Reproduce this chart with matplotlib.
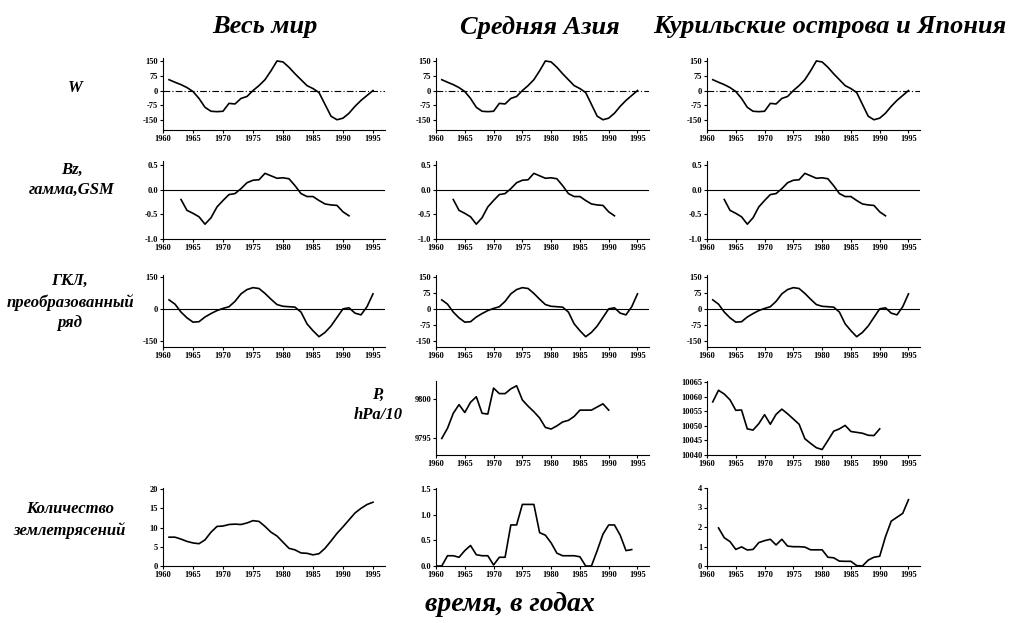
import numpy as np
import matplotlib.pyplot as plt

# --- data ---
years_w = np.arange(1961, 1996)
w_index = [55, 42, 30, 15, -5, -40, -85, -105, -107, -105, -65, -68, -40, -30, 0,
           25, 55, 100, 150, 145, 118, 85, 55, 25, 10, -10, -70, -130, -148, -140,
           -115, -80, -50, -25, 0]

years_bz = np.arange(1963, 1992)
bz_gsm = [-0.2, -0.42, -0.48, -0.55, -0.70, -0.57, -0.35, -0.22, -0.1, -0.08, 0.02,
          0.14, 0.19, 0.2, 0.33, 0.28, 0.23, 0.24, 0.22, 0.08, -0.08, -0.14, -0.14,
          -0.22, -0.29, -0.31, -0.32, -0.45, -0.53]

years_gkl = np.arange(1961, 1996)
gkl = [42, 22, -15, -42, -62, -60, -38, -22, -8, 2, 10, 35, 70, 90, 99, 95, 72, 45,
       20, 12, 10, 8, -15, -70, -102, -130, -110, -80, -40, 0, 5, -20, -28, 10, 70]

years_p = np.arange(1961, 1991)
p_asia = [9795.0, 9796.3, 9798.2, 9799.3, 9798.3, 9799.6, 9800.3, 9798.2, 9798.1,
          9801.4, 9800.7, 9800.7, 9801.3, 9801.7, 9799.9, 9799.1, 9798.4, 9797.6,
          9796.4, 9796.2, 9796.6, 9797.1, 9797.3, 9797.8, 9798.6, 9798.6, 9798.6,
          9799.0, 9799.4, 9798.6]
p_japan = [10058.3, 10062.3, 10061.0, 10059.0, 10055.4, 10055.5, 10049.0, 10048.6,
           10050.8, 10053.9, 10050.6, 10054.0, 10055.8, 10054.2, 10052.4, 10050.6,
           10045.6, 10044.0, 10042.5, 10041.9, 10045.0, 10048.2, 10049.0, 10050.2,
           10048.1, 10047.8, 10047.5, 10046.8, 10046.7, 10049.0]

years_q_world = np.arange(1961, 1996)
quakes_world = [7.5, 7.5, 7.0, 6.4, 6.0, 5.8, 6.8, 8.8, 10.3, 10.4, 10.8, 10.9, 10.8,
                11.2, 11.8, 11.6, 10.3, 8.8, 7.8, 6.2, 4.6, 4.2, 3.4, 3.3, 2.9, 3.2,
                4.6, 6.5, 8.5, 10.2, 12.0, 13.8, 15.0, 16.0, 16.6]
years_q_asia = np.arange(1960, 1995)
quakes_asia = [0, 0, 0.2, 0.2, 0.17, 0.3, 0.4, 0.22, 0.2, 0.2, 0.02, 0.17, 0.17, 0.8,
               0.8, 1.2, 1.2, 1.2, 0.65, 0.6, 0.45, 0.25, 0.2, 0.2, 0.2, 0.18, 0.0,
               0.0, 0.3, 0.62, 0.8, 0.8, 0.6, 0.3, 0.32]
years_q_japan = np.arange(1962, 1996)
quakes_japan = [1.95, 1.45, 1.25, 0.85, 0.98, 0.82, 0.85, 1.2, 1.3, 1.37, 1.08, 1.37,
                1.02, 0.99, 0.99, 0.97, 0.83, 0.83, 0.83, 0.45, 0.42, 0.25, 0.24, 0.24,
                0.02, 0.0, 0.3, 0.45, 0.5, 1.5, 2.3, 2.5, 2.7, 3.4]

col_titles = ["Весь мир", "Средняя Азия", "Курильские острова и Япония"]
row_labels = ["W", "Bz,\nгамма,GSM", "ГКЛ,\nпреобразованный\nряд",
              "P,\nhPa/10", "Количество\nземлетрясений"]
year_ticks = [1960, 1965, 1970, 1975, 1980, 1985, 1990, 1995]

W, H = 1010, 623
fig = plt.figure(figsize=(W / 100, H / 100), dpi=100)

col_left = [163, 436, 707]
col_width = [222, 213, 213]
row_box = [(58, 130), (161, 239), (275, 347), (381, 455), (488, 566)]

serif = "Liberation Serif"


def make_ax(r, c):
    top, bot = row_box[r]
    ax = fig.add_axes([col_left[c] / W, 1 - bot / H, col_width[c] / W, (bot - top) / H])
    ax.spines[["top", "right"]].set_visible(False)
    ax.set_xlim(1960, 1997)
    ax.set_xticks(year_ticks)
    ax.tick_params(labelsize=6, length=2, width=0.8, pad=1.5)
    return ax


def fmt(ax, ticks, labels):
    ax.set_yticks(ticks)
    ax.set_yticklabels(labels, fontsize=6, fontweight="bold", family=serif)
    ax.set_xticklabels([str(y) for y in year_ticks], fontsize=6, fontweight="bold", family=serif)


lw = 1.2
for c in range(3):
    # W
    ax = make_ax(0, c)
    ax.plot(years_w, w_index, color="black", lw=lw)
    ax.axhline(0, color="black", lw=0.8, ls=(0, (6, 2, 1, 2)))
    ax.set_ylim(-200, 165)
    fmt(ax, [150, 75, 0, -75, -150], ["150", "75", "0", "-75", "-150"])

    # Bz
    ax = make_ax(1, c)
    ax.plot(years_bz, bz_gsm, color="black", lw=lw)
    ax.axhline(0, color="black", lw=0.8)
    ax.set_ylim(-1.0, 0.58)
    fmt(ax, [0.5, 0.0, -0.5, -1.0], ["0.5", "0.0", "-0.5", "-1.0"])

    # GKL
    ax = make_ax(2, c)
    ax.plot(years_gkl, gkl, color="black", lw=lw)
    ax.axhline(0, color="black", lw=0.8)
    ax.set_ylim(-178, 158)
    if c == 0:
        fmt(ax, [150, 0, -150], ["150", "0", "-150"])
    else:
        fmt(ax, [150, 75, 0, -75, -150], ["150", "75", "0", "-75", "-150"])

# pressure
ax = make_ax(3, 1)
ax.plot(years_p, p_asia, color="black", lw=lw)
ax.set_ylim(9792.9, 9802.3)
fmt(ax, [9800, 9795], ["9800", "9795"])

ax = make_ax(3, 2)
ax.plot(years_p, p_japan, color="black", lw=lw)
ax.set_ylim(10040, 10065.5)
fmt(ax, [10040, 10045, 10050, 10055, 10060, 10065],
    ["10040", "10045", "10050", "10055", "10060", "10065"])

# earthquakes
ax = make_ax(4, 0)
ax.plot(years_q_world, quakes_world, color="black", lw=lw)
ax.set_ylim(0, 20.3)
fmt(ax, [0, 5, 10, 15, 20], ["0", "5", "10", "15", "20"])

ax = make_ax(4, 1)
ax.plot(years_q_asia, quakes_asia, color="black", lw=lw)
ax.set_ylim(0, 1.52)
fmt(ax, [0, 0.5, 1.0, 1.5], ["0.0", "0.5", "1.0", "1.5"])

ax = make_ax(4, 2)
ax.plot(years_q_japan, quakes_japan, color="black", lw=lw)
ax.set_ylim(0, 4.0)
fmt(ax, [0, 1, 2, 3, 4], ["0", "1", "2", "3", "4"])

# titles and labels
title_x = [265, 540, 830]
for x, t in zip(title_x, col_titles):
    fig.text(x / W, 1 - 27 / H, t, ha="center", va="center", fontsize=19,
             fontweight="bold", style="italic", family=serif)

label_pos = [(75, 88), (72, 180), (70, 302), (378, 405), (70, 520)]
for (x, y), t in zip(label_pos, row_labels):
    fig.text(x / W, 1 - y / H, t, ha="center", va="center", fontsize=12,
             fontweight="bold", style="italic", family=serif, linespacing=1.35)

fig.text(510 / W, 1 - 604 / H, "время, в годах", ha="center", va="center",
         fontsize=20, fontweight="bold", style="italic", family=serif)

fig.savefig("out.png", dpi=100)
